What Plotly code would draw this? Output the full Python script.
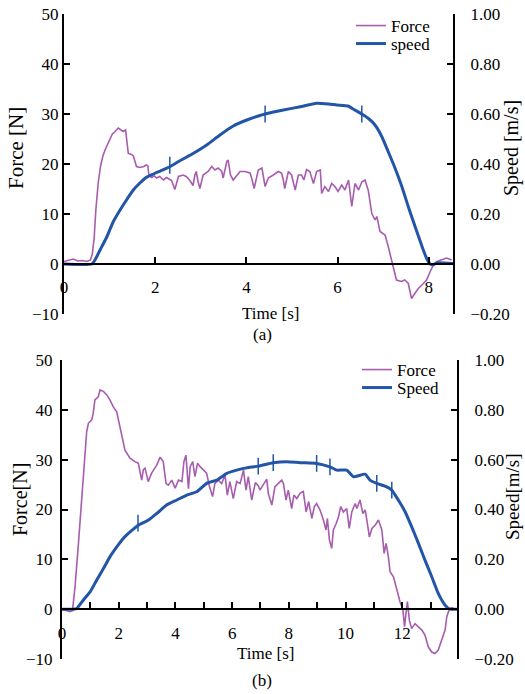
import plotly.graph_objects as go

# ---------------- data: chart (a) ----------------
ta_force = [0.00, 0.10, 0.20, 0.30, 0.40, 0.50, 0.58, 0.62, 0.66, 0.70, 0.75, 0.80, 0.85, 0.90, 0.96,
            1.01, 1.06, 1.12, 1.19, 1.25, 1.30, 1.35, 1.41, 1.48, 1.52, 1.59, 1.67, 1.75, 1.80, 1.84,
            1.86, 1.92, 1.98, 2.03, 2.10, 2.18, 2.25, 2.32, 2.36, 2.43, 2.51, 2.61, 2.68, 2.76, 2.83,
            2.87, 2.90, 2.94, 2.98, 3.05, 3.16, 3.24, 3.31, 3.38, 3.46, 3.49, 3.57, 3.60, 3.65, 3.71,
            3.79, 3.86, 3.97, 4.08, 4.12, 4.17, 4.26, 4.34, 4.41, 4.48, 4.59, 4.70, 4.77, 4.81, 4.84,
            4.92, 4.99, 5.07, 5.14, 5.21, 5.26, 5.32, 5.39, 5.47, 5.54, 5.62, 5.65, 5.72, 5.80, 5.87,
            5.94, 6.01, 6.09, 6.16, 6.24, 6.31, 6.38, 6.46, 6.53, 6.60, 6.67, 6.75, 6.82, 6.86, 6.93,
            7.04, 7.11, 7.18, 7.26, 7.29, 7.40, 7.47, 7.55, 7.62, 7.70, 7.77, 7.88, 7.95, 8.03, 8.10,
            8.18, 8.28, 8.39, 8.50]
force_a = [0.5, 0.8, 1.0, 0.6, 0.7, 0.5, 0.8, 2.0, 5.0, 11.0, 16.2, 19.5, 21.5, 22.8, 24.0,
           24.8, 26.0, 26.5, 27.2, 26.8, 26.5, 26.8, 22.1, 21.9, 21.6, 19.5, 19.3, 19.5, 19.8, 19.6,
           17.8, 17.3, 17.6, 17.2, 17.5, 16.8, 17.3, 16.9, 16.7, 14.9, 17.5, 17.8, 17.5, 16.7, 15.7,
           17.8, 18.5, 16.5, 15.1, 17.8, 18.5, 19.5, 18.8, 19.2, 18.5, 17.2, 20.5, 20.8, 17.8, 16.8,
           17.8, 18.5, 18.5, 18.2, 17.0, 15.1, 18.8, 19.2, 15.5, 17.2, 17.8, 18.5, 18.2, 16.8, 15.1,
           18.5, 17.8, 14.8, 17.8, 17.8, 16.8, 18.9, 18.5, 16.1, 18.5, 18.8, 14.1, 15.5, 14.5, 16.1,
           15.5, 14.5, 15.8, 14.8, 16.8, 11.5, 16.1, 14.8, 16.4, 16.8, 14.8, 10.1, 8.8, 9.5, 6.5,
           5.8, 3.5, 0.8, -1.9, -3.2, -3.5, -3.2, -3.9, -6.9, -5.8, -4.9, -3.9, -3.2, -1.5, -0.2,
           0.5, 0.8, 1.2, 0.8]

ta_speed = [0.00, 0.61, 0.68, 0.79, 0.94, 1.08, 1.23, 1.37, 1.52, 1.67, 1.81, 1.96, 2.11, 2.32, 2.54,
            2.84, 3.13, 3.42, 3.71, 4.01, 4.26, 4.41, 4.81, 5.18, 5.54, 5.80, 5.98, 6.23, 6.35, 6.53,
            6.67, 6.82, 6.97, 7.11, 7.26, 7.41, 7.55, 7.70, 7.84, 7.95, 8.03, 8.10, 8.18, 8.53]
speed_a = [0.0, 0.0, 0.016, 0.056, 0.109, 0.169, 0.216, 0.256, 0.296, 0.325, 0.347, 0.360, 0.372, 0.389, 0.413,
           0.443, 0.476, 0.516, 0.552, 0.576, 0.592, 0.600, 0.616, 0.629, 0.643, 0.640, 0.636, 0.632, 0.619, 0.600,
           0.583, 0.556, 0.509, 0.449, 0.383, 0.309, 0.229, 0.149, 0.076, 0.023, 0.000, -0.003, 0.005, 0.002]

ta_marks = [2.32, 4.41, 6.53]
speed_a_marks = [0.395, 0.600, 0.600]

# ---------------- data: chart (b) ----------------
tb_force = [0.00, 0.28, 0.37, 0.46, 0.58, 0.69, 0.81, 0.87, 0.93, 1.05, 1.10, 1.16, 1.28, 1.34, 1.46,
            1.58, 1.69, 1.81, 1.93, 1.99, 2.10, 2.22, 2.40, 2.57, 2.69, 2.81, 2.87, 2.93, 3.04, 3.16,
            3.34, 3.46, 3.57, 3.67, 3.75, 3.87, 3.99, 4.11, 4.23, 4.30, 4.37, 4.46, 4.52, 4.61, 4.69,
            4.78, 4.87, 4.99, 5.10, 5.20, 5.31, 5.39, 5.51, 5.63, 5.75, 5.83, 5.92, 6.04, 6.16, 6.28,
            6.40, 6.49, 6.57, 6.69, 6.82, 6.92, 6.98, 7.10, 7.22, 7.28, 7.40, 7.51, 7.63, 7.75, 7.81,
            7.90, 7.98, 8.10, 8.18, 8.28, 8.40, 8.51, 8.61, 8.70, 8.81, 8.90, 8.98, 9.10, 9.22, 9.31,
            9.36, 9.43, 9.51, 9.57, 9.67, 9.75, 9.83, 9.92, 10.04, 10.13, 10.22, 10.34, 10.40, 10.51, 10.61,
            10.69, 10.75, 10.84, 10.93, 11.05, 11.16, 11.28, 11.36, 11.43, 11.51, 11.57, 11.69, 11.80, 11.92, 12.02,
            12.08, 12.13, 12.18, 12.25, 12.33, 12.45, 12.57, 12.69, 12.80, 12.92, 13.04, 13.15, 13.27, 13.39, 13.51,
            13.57, 13.66, 13.75, 13.85]
force_b = [0.0, -0.5, -0.3, 4.5, 13.2, 21.2, 30.6, 35.6, 37.3, 38.0, 39.3, 42.0, 42.6, 44.0, 43.7,
           43.0, 42.0, 40.6, 39.6, 38.0, 34.6, 31.9, 30.3, 29.6, 29.3, 25.9, 28.0, 28.3, 25.6, 27.3,
           28.9, 30.5, 29.6, 25.2, 24.9, 25.9, 24.3, 25.9, 25.6, 29.6, 30.9, 24.2, 28.6, 29.6, 26.6,
           29.3, 28.6, 27.9, 27.3, 24.6, 22.6, 25.2, 25.9, 25.2, 26.9, 22.9, 25.6, 22.2, 25.6, 25.2,
           27.9, 23.9, 26.6, 21.9, 25.4, 24.8, 23.9, 25.0, 26.1, 23.1, 20.9, 24.6, 25.2, 25.9, 25.2,
           21.9, 23.9, 20.2, 22.9, 22.2, 23.3, 23.6, 19.5, 21.6, 18.2, 20.6, 21.2, 19.9, 17.9, 15.9,
           18.2, 13.9, 12.2, 15.9, 17.2, 18.5, 20.6, 19.5, 20.2, 16.2, 19.5, 21.2, 20.2, 21.9, 19.2,
           19.9, 17.9, 14.5, 16.2, 16.9, 17.9, 15.9, 11.2, 13.2, 10.5, 7.5, 6.5, 3.8, 1.5, 0.0,
           -3.5, -0.9, 1.5, -2.2, -3.9, -2.9, -3.5, -4.2, -5.2, -7.6, -8.6, -8.9, -8.2, -6.2, -4.2,
           -1.5, 0.0, 0.3, 0.0]

tb_speed = [0.00, 0.40, 0.52, 0.75, 0.99, 1.22, 1.46, 1.69, 1.93, 2.16, 2.40, 2.69, 3.04, 3.34, 3.69,
            4.05, 4.40, 4.75, 5.10, 5.46, 5.81, 6.16, 6.51, 6.92, 7.45, 7.93, 8.40, 8.98, 9.45, 9.69,
            10.04, 10.28, 10.69, 10.86, 11.10, 11.45, 11.63, 11.86, 12.10, 12.33, 12.57, 12.80, 13.04, 13.27, 13.51,
            13.69, 13.93]
speed_b = [0.0, 0.0, 0.003, 0.036, 0.069, 0.116, 0.163, 0.210, 0.250, 0.284, 0.310, 0.337, 0.357, 0.384, 0.418,
           0.438, 0.458, 0.471, 0.505, 0.518, 0.545, 0.558, 0.567, 0.574, 0.588, 0.592, 0.588, 0.585, 0.571, 0.558,
           0.558, 0.531, 0.542, 0.518, 0.505, 0.491, 0.478, 0.438, 0.391, 0.331, 0.264, 0.197, 0.130, 0.063, 0.016,
           0.000, 0.000]

tb_marks = [2.68, 6.92, 7.45, 8.98, 9.45, 11.10, 11.63]
speed_b_marks = [0.345, 0.574, 0.588, 0.585, 0.571, 0.505, 0.478]

# axis ticks / labels
xa_ticks = [0, 2, 4, 6, 8]
xb_ticks = list(range(0, 14))
xb_ticktext = [str(v) if v % 2 == 0 else "" for v in xb_ticks]
force_ticks = [-10, 0, 10, 20, 30, 40, 50]
speed_ticks = [-0.2, 0.0, 0.2, 0.4, 0.6, 0.8, 1.0]

FORCE_C = "#A75CAF"
SPEED_C = "#2255A8"
FONT = "Times New Roman, Liberation Serif, DejaVu Serif, serif"
W, H = 525, 694


def px(x):
    return x / W


def py(y):
    return 1 - y / H


fig = go.Figure()

# chart (a)
fig.add_trace(go.Scatter(x=ta_force, y=force_a, mode="lines", name="Force",
                         line=dict(color=FORCE_C, width=1.6), xaxis="x", yaxis="y", legend="legend"))
fig.add_trace(go.Scatter(x=ta_speed, y=speed_a, mode="lines", name="speed",
                         line=dict(color=SPEED_C, width=3, shape="spline", smoothing=0.5),
                         xaxis="x", yaxis="y2", legend="legend3"))
fig.add_trace(go.Scatter(x=ta_marks, y=speed_a_marks, mode="markers", showlegend=False,
                         marker=dict(symbol="line-ns", size=12, line=dict(color=SPEED_C, width=1.5)),
                         xaxis="x", yaxis="y2"))
# chart (b)
fig.add_trace(go.Scatter(x=tb_force, y=force_b, mode="lines", name="Force",
                         line=dict(color=FORCE_C, width=1.6), xaxis="x2", yaxis="y3", legend="legend2"))
fig.add_trace(go.Scatter(x=tb_speed, y=speed_b, mode="lines", name="Speed",
                         line=dict(color=SPEED_C, width=3, shape="spline", smoothing=0.5),
                         xaxis="x2", yaxis="y4", legend="legend4"))
fig.add_trace(go.Scatter(x=tb_marks, y=speed_b_marks, mode="markers", showlegend=False,
                         marker=dict(symbol="line-ns", size=12, line=dict(color=SPEED_C, width=1.5)),
                         xaxis="x2", yaxis="y4"))

# domains (pixel-measured)
xa_dom = [px(64), px(453)]
ya_dom = [py(314), py(14)]
xb_dom = [px(62), px(457)]
yb_dom = [py(659), py(360)]
ya_zero = ya_dom[0] + (ya_dom[1] - ya_dom[0]) / 6
yb_zero = yb_dom[0] + (yb_dom[1] - yb_dom[0]) / 6

tickfont = dict(family=FONT, size=17, color="black")
axis_common = dict(showline=True, linecolor="black", linewidth=2, showgrid=False, zeroline=False,
                   ticks="inside", ticklen=6, tickwidth=2, tickcolor="black", tickfont=tickfont,
                   automargin=False)


def leg(x, y):
    return dict(x=px(x), y=py(y), xanchor="left", yanchor="middle", bgcolor="rgba(0,0,0,0)",
                font=dict(family=FONT, size=17, color="black"), tracegroupgap=0, itemwidth=30)


fig.update_layout(
    width=W, height=H, margin=dict(l=0, r=0, t=0, b=0, autoexpand=False),
    paper_bgcolor="white", plot_bgcolor="rgba(0,0,0,0)",
    font=dict(family=FONT, size=17, color="black"),
    xaxis=dict(domain=xa_dom, range=[0, 8.53], anchor="free", position=ya_zero,
               tickvals=xa_ticks, ticklabelstandoff=8, **axis_common),
    yaxis=dict(domain=ya_dom, range=[-10, 50], anchor="x", tickvals=force_ticks, **axis_common),
    yaxis2=dict(range=[-0.2, 1.0], overlaying="y", side="right", anchor="x", tickvals=speed_ticks,
                tickformat=".2f", ticklabelstandoff=12, **axis_common),
    xaxis2=dict(domain=xb_dom, range=[0, 13.93], anchor="free", position=yb_zero,
                tickvals=xb_ticks, ticktext=xb_ticktext, ticklabelstandoff=8, **axis_common),
    yaxis3=dict(domain=yb_dom, range=[-10, 50], anchor="x2", tickvals=force_ticks, ticklabelstandoff=4,
                **axis_common),
    yaxis4=dict(range=[-0.2, 1.0], overlaying="y3", side="right", anchor="x2", tickvals=speed_ticks,
                tickformat=".2f", ticklabelstandoff=12, **axis_common),
    legend=leg(351, 26),
    legend3=leg(351, 44),
    legend2=leg(357, 370),
    legend4=leg(357, 388),
    showlegend=True,
)

annots = [
    ("Force [N]", 16, 148, 21, -90),
    ("Speed [m/s]", 512, 148, 20, -90),
    ("Time [s]", 270, 313, 17, 0),
    ("(a)", 262, 335, 17, 0),
    ("Force[N]", 20, 500, 20, -90),
    ("Speed[m/s]", 512, 497, 19, -90),
    ("Time [s]", 265, 653, 17, 0),
    ("(b)", 262, 680, 17, 0),
]
for text, x, y, size, ang in annots:
    fig.add_annotation(text=text, x=px(x), y=py(y), xref="paper", yref="paper", showarrow=False,
                       xanchor="center", yanchor="middle", textangle=ang,
                       font=dict(family=FONT, size=size, color="black"))

fig.write_html("out.html", config={"displayModeBar": False},
               post_script="document.body.style.margin='0';")
